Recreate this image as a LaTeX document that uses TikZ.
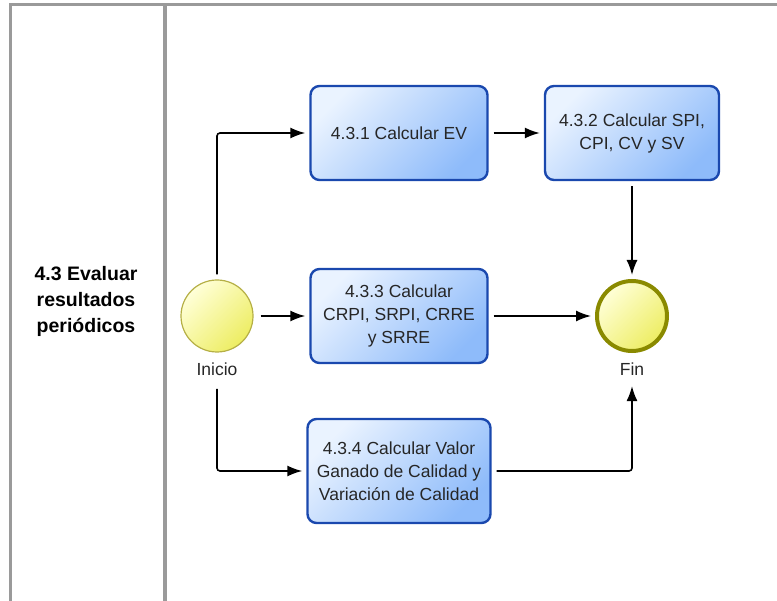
\documentclass[tikz,border=0pt]{standalone}
\usepackage{fontspec}
\setmainfont{Liberation Sans}
\usepackage{tikz}
\usetikzlibrary{arrows.meta, positioning, shapes.misc}
\definecolor{bordeazul}{HTML}{1A48AE}
\definecolor{azulclaro}{HTML}{EAF3FF}
\definecolor{azulfuerte}{HTML}{8EBBFA}
\definecolor{amarilloclaro}{HTML}{FFFFD8}
\definecolor{amarillofuerte}{HTML}{EDED62}
\definecolor{oliva}{HTML}{B5AF45}
\definecolor{olivafin}{HTML}{8A8A00}
\definecolor{marco}{HTML}{9A9A9A}
\tikzset{
  x=1pt, y=-1pt, % pixel-like units, y going down
  node distance=182pt, % center to center, change per node if needed
  tarea/.style={draw=bordeazul, line width=2.4pt, rounded corners=9pt,
    top color=azulclaro, bottom color=azulfuerte, shading angle=45,
    minimum width=177pt, minimum height=94pt, align=center,
    text=black!85, font=\fontsize{17.5}{23}\selectfont}, % the task boxes
  evento/.style={circle, draw=oliva, line width=1.2pt, minimum size=72pt,
    top color=amarilloclaro, bottom color=amarillofuerte, shading angle=45},
  eventofin/.style={evento, draw=olivafin, line width=4pt, minimum size=70pt},
  etiqueta/.style={inner sep=0pt, text=black!85,
    font=\fontsize{17.5}{21}\selectfont}, % text under the events
  flujo/.style={-{Latex[length=15pt,width=11pt]}, line width=1.6pt,
    shorten >=4pt, shorten <=5pt, rounded corners=3pt},
}
\begin{document}
\begin{tikzpicture}
  \useasboundingbox (0,0) rectangle (777,601);
  % lane frame
  \draw[marco, line width=3pt] (9,5) -- (777,5);
  \draw[marco, line width=3pt] (10,5) -- (10,601);
  \draw[marco, line width=4pt] (165,5) -- (165,601);
  \node[align=center, font=\bfseries\fontsize{19.5}{26}\selectfont] (carril) at (86,301) {4.3 Evaluar\\resultados\\periódicos};

  \node[evento] (ini) at (217,316) {};
  \node[etiqueta, below=10pt of ini] (ini-txt) {Inicio};
  \node[tarea, right of=ini] (t3) {4.3.3 Calcular\\CRPI, SRPI, CRRE\\y SRRE};
  \node[tarea, above of=t3, node distance=183pt] (t1) {4.3.1 Calcular EV};
  \node[tarea, below of=t3, node distance=155pt, minimum width=183pt, minimum height=104pt] (t4) {4.3.4 Calcular Valor\\Ganado de Calidad y\\Variación de Calidad};
  \node[eventofin, right of=t3, node distance=233pt] (fin) {};
  \node[tarea, above of=fin, node distance=183pt, minimum width=174pt] (t2) {4.3.2 Calcular SPI,\\CPI, CV y SV};
  \node[etiqueta, below=10pt of fin] (fin-txt) {Fin};

  \draw[flujo] (ini) |- (t1);
  \draw[flujo] (t1) -- (t2);
  \draw[flujo] (t2) -- (fin);
  \draw[flujo, shorten <=7pt] (ini) -- (t3);
  \draw[flujo] (t3) -- (fin);
  \draw[flujo, shorten <=13pt] (ini-txt) |- (t4);
  \draw[flujo, shorten >=10pt] (t4) -| (fin-txt);
\end{tikzpicture}
\end{document}
